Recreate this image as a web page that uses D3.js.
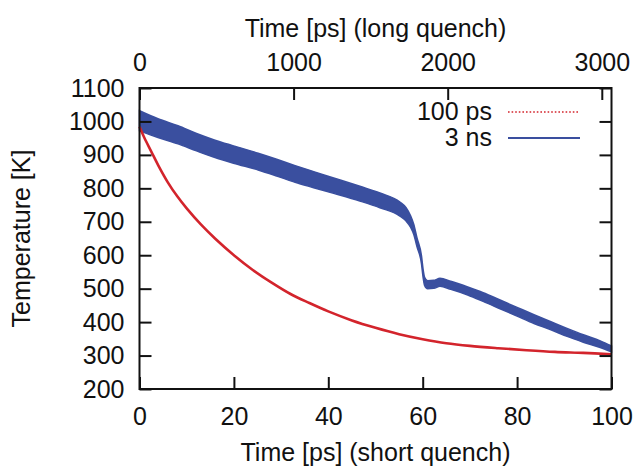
<!DOCTYPE html>
<html>
<head>
<meta charset="utf-8">
<script src="https://cdn.jsdelivr.net/npm/d3@7"></script>
<style>
  html, body { margin: 0; padding: 0; background: #fff; }
  svg text { font-family: "Liberation Sans", Arial, Helvetica, sans-serif; fill: #111; }
</style>
</head>
<body>
<script>
// short quench (100 ps run), time in ps on the bottom axis
var shortTime = [0, 1, 2.5, 4, 6, 8, 10, 13, 16, 20, 24, 28, 32, 36, 40, 45, 50, 55, 60, 65, 70, 76, 82, 88, 94, 100];
var shortTemp = [984, 952, 910, 868, 818, 776, 740, 692, 650, 600, 556, 518, 484, 457, 432, 405, 383, 364, 349, 337, 329, 322, 316, 311, 308, 304];

// long quench (3 ns run), time in ps on the top axis
var longTime = [0, 120, 250, 370, 490, 610, 770, 890, 1010, 1130, 1260, 1430, 1560, 1690, 1730, 1760, 1780, 1800, 1830, 1840, 1850, 1870, 1910, 1950, 2020, 2130, 2230, 2340, 2450, 2560, 2670, 2770, 2880, 2990, 3063];
var longTemp = [1002, 980, 960, 938, 918, 901, 880, 862, 843, 826, 808, 784, 764, 738, 722, 700, 677, 640, 586, 547, 522, 512, 513, 519, 510, 493, 475, 453, 431, 409, 389, 370, 351, 334, 320];
// half width of the noise band of the long run
var longNoise = [30, 28, 27, 26, 26, 26, 25, 25, 25, 24, 23, 22, 22, 21, 20, 17, 15, 13, 12, 12, 12, 12, 12, 12, 12, 12, 13, 13, 13, 13, 12, 12, 11, 10, 9];

var tempTicks = [200, 300, 400, 500, 600, 700, 800, 900, 1000, 1100];
var shortTicks = [0, 20, 40, 60, 80, 100];
var longTicks = [0, 1000, 2000, 3000];

var seriesNames = ["100 ps", "3 ns"];
var seriesColors = ["#d3242c", "#3a4f9f"];

var W = 637, H = 468;
var m = {left: 139.5, right: 25.5, top: 88, bottom: 79};
var fs = "25px";

var svg = d3.select("body").append("svg")
    .attr("width", W).attr("height", H);

var x = d3.scaleLinear().domain([0, 100]).range([m.left, W - m.right]);
var x2 = d3.scaleLinear().domain([0, 3063]).range([m.left, W - m.right]);
var y = d3.scaleLinear().domain([200, 1100]).range([H - m.bottom, m.top]);

var shortData = shortTime.map(function (t, i) { return {t: t, v: shortTemp[i]}; });
var longData = longTime.map(function (t, i) { return {t: t, v: longTemp[i], n: longNoise[i]}; });

// long run band
svg.append("path")
    .datum(longData)
    .attr("fill", seriesColors[1])
    .attr("stroke", seriesColors[1])
    .attr("stroke-width", 1.5)
    .attr("d", d3.area()
        .x(function (d) { return x2(d.t); })
        .y0(function (d) { return y(d.v - d.n); })
        .y1(function (d) { return y(d.v + d.n); })
        .curve(d3.curveMonotoneX));

// short run line
svg.append("path")
    .datum(shortData)
    .attr("fill", "none")
    .attr("stroke", seriesColors[0])
    .attr("stroke-width", 2.6)
    .attr("d", d3.line()
        .x(function (d) { return x(d.t); })
        .y(function (d) { return y(d.v); })
        .curve(d3.curveCatmullRom.alpha(0.5)));

// axes
function styleAxis(g) {
    g.select(".domain").remove();
    g.selectAll(".tick line").attr("stroke", "#111").attr("stroke-width", 2);
    g.selectAll(".tick text").style("font-size", fs).attr("fill", "#111");
}

svg.append("g")
    .attr("transform", "translate(" + m.left + ",0)")
    .call(d3.axisLeft(y).tickValues(tempTicks).tickSize(-12).tickPadding(15).tickFormat(d3.format("d")))
    .call(styleAxis);

svg.append("g")
    .attr("transform", "translate(" + (W - m.right) + ",0)")
    .call(d3.axisRight(y).tickValues(tempTicks).tickSize(-12).tickFormat(""))
    .call(styleAxis);

svg.append("g")
    .attr("transform", "translate(0," + (H - m.bottom) + ")")
    .call(d3.axisBottom(x).tickValues(shortTicks).tickSize(-12).tickPadding(18).tickFormat(d3.format("d")))
    .call(styleAxis);

svg.append("g")
    .attr("transform", "translate(0," + m.top + ")")
    .call(d3.axisTop(x2).tickValues(longTicks).tickSize(-12).tickPadding(17).tickFormat(d3.format("d")))
    .call(styleAxis);

svg.append("rect")
    .attr("x", m.left).attr("y", m.top)
    .attr("width", W - m.left - m.right)
    .attr("height", H - m.top - m.bottom)
    .attr("fill", "none")
    .attr("stroke", "#111")
    .attr("stroke-width", 2);

// titles
svg.append("text")
    .attr("x", (m.left + W - m.right) / 2).attr("y", 461)
    .attr("text-anchor", "middle").style("font-size", fs)
    .text("Time [ps] (short quench)");

svg.append("text")
    .attr("x", (m.left + W - m.right) / 2).attr("y", 37)
    .attr("text-anchor", "middle").style("font-size", fs)
    .text("Time [ps] (long quench)");

svg.append("text")
    .attr("transform", "translate(30," + ((m.top + H - m.bottom) / 2) + ") rotate(-90)")
    .attr("text-anchor", "middle").style("font-size", fs)
    .text("Temperature [K]");

// legend
var legend = svg.append("g");
seriesNames.forEach(function (name, i) {
    var ly = 112 + i * 26;
    legend.append("text")
        .attr("x", 492).attr("y", ly + 8)
        .attr("text-anchor", "end").style("font-size", fs)
        .text(name);
    legend.append("line")
        .attr("x1", 508).attr("x2", 580)
        .attr("y1", ly).attr("y2", ly)
        .attr("stroke", seriesColors[i])
        .attr("stroke-width", i === 0 ? 1.6 : 2)
        .attr("stroke-dasharray", i === 0 ? "1.6,2" : null);
});
</script>
</body>
</html>
